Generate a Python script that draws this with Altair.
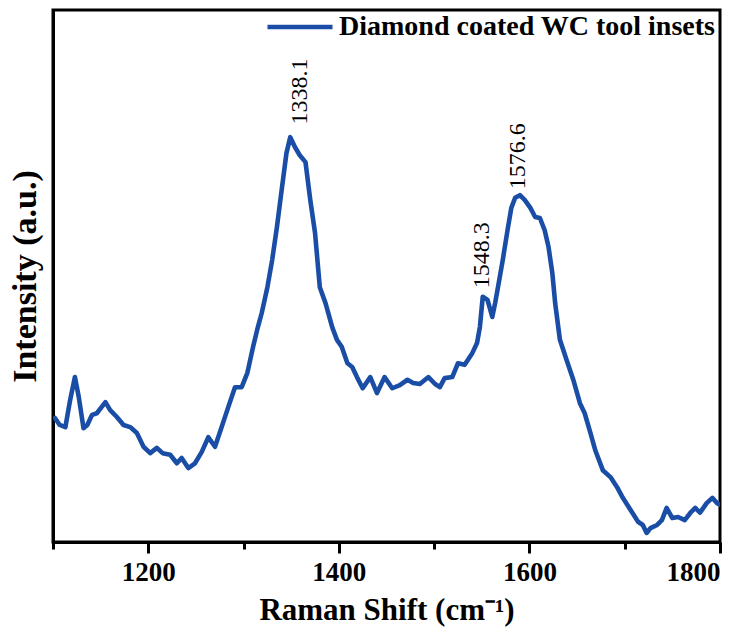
import altair as alt
import pandas as pd

# Raman spectrum (wavenumber in cm^-1, intensity in a.u.)
wavenumber = [1102, 1107, 1113, 1118, 1123, 1127, 1132, 1136, 1141, 1146,
              1155, 1160, 1167, 1174, 1181, 1188, 1195, 1202, 1209, 1215,
              1223, 1230, 1235, 1242, 1249, 1256, 1263, 1270, 1277, 1284,
              1291, 1298, 1304, 1310, 1315, 1319, 1325, 1330, 1335, 1340,
              1345, 1349, 1354, 1359, 1365, 1370, 1375, 1380, 1386, 1393,
              1398, 1403, 1409, 1414, 1419, 1425, 1433, 1440, 1448, 1456,
              1464, 1472, 1478, 1485, 1494, 1501, 1506, 1511, 1519, 1525,
              1532, 1540, 1545, 1548, 1551, 1556, 1561, 1564, 1567, 1572,
              1577, 1581, 1585, 1590, 1595, 1601, 1606, 1611, 1616, 1620,
              1624, 1627, 1632, 1639, 1646, 1653, 1658, 1664, 1669, 1677,
              1685, 1692, 1698, 1708, 1714, 1719, 1723, 1727, 1734, 1739,
              1744, 1750, 1756, 1763, 1769, 1774, 1779, 1786, 1792, 1797,
              1800]
intensity = [23.3, 22.0, 21.6, 26.7, 31.0, 27.3, 21.4, 22.0, 23.9, 24.2,
             26.3, 24.8, 23.5, 22.0, 21.6, 20.5, 17.9, 16.7, 17.7, 16.7,
             16.4, 14.8, 15.8, 13.9, 14.8, 16.9, 19.7, 17.9, 21.6, 25.4,
             29.1, 29.1, 31.8, 36.7, 40.4, 43.0, 47.9, 53.0, 59.2, 66.2,
             73.1, 76.1, 74.2, 72.7, 71.4, 64.3, 58.1, 47.9, 44.9, 40.4,
             38.0, 36.7, 33.6, 32.9, 31.0, 28.9, 31.0, 28.0, 31.0, 28.9,
             29.5, 30.5, 29.9, 29.7, 31.0, 29.7, 29.1, 30.8, 31.0, 33.6,
             33.3, 35.5, 37.4, 40.4, 46.1, 45.5, 42.3, 44.9, 47.9, 53.0,
             58.6, 62.8, 64.7, 65.2, 64.3, 62.8, 61.1, 60.9, 58.6, 55.5,
             50.6, 44.9, 38.0, 34.2, 30.5, 26.1, 24.2, 20.5, 17.3, 13.5,
             12.2, 10.3, 8.3, 5.5, 3.8, 3.2, 1.7, 2.6, 3.2, 4.1,
             6.4, 4.5, 4.7, 4.1, 5.5, 6.4, 5.5, 7.3, 8.3, 7.3,
             7.0]
series_name = "Diamond coated WC tool insets"

peak_labels = ["1338.1", "1548.3", "1576.6"]
peak_x = [1359, 1550, 1588]
peak_y = [78.5, 47.7, 66.3]

x_ticks = [1100, 1200, 1300, 1400, 1500, 1600, 1700, 1800]

df = pd.DataFrame({"x": wavenumber, "y": intensity, "series": series_name})
ann = pd.DataFrame({"x": peak_x, "y": peak_y, "label": peak_labels})

FONT = "Liberation Serif"
BLUE = "#1a4ea6"

x_scale = alt.Scale(domain=[1100, 1800], nice=False, zero=False)
y_scale = alt.Scale(domain=[0, 100], nice=False, zero=False)

line = alt.Chart(df).mark_line(
    strokeWidth=4.6, strokeJoin="round", strokeCap="round", clip=True
).encode(
    x=alt.X("x:Q", scale=x_scale,
            axis=alt.Axis(values=x_ticks, format="d",
                          labelExpr="datum.value % 200 === 0 ? datum.label : ''",
                          tickSize={"condition": {"test": "datum.value % 200 === 0", "value": 11}, "value": 7},
                          title="Raman Shift (cm⁻¹)", grid=False,
                          labelPadding=6, titlePadding=10)),
    y=alt.Y("y:Q", scale=y_scale,
            axis=alt.Axis(labels=False, ticks=False, grid=False,
                          title="Intensity (a.u.)", titlePadding=11,
                          titleFontSize=34)),
    color=alt.Color("series:N", scale=alt.Scale(range=[BLUE]),
                    legend=alt.Legend(title=None, orient="none", legendX=212, legendY=-18,
                                      symbolType="stroke", symbolSize=4225,
                                      symbolStrokeWidth=4.6, labelFont=FONT,
                                      labelFontWeight="bold", labelFontSize=28,
                                      labelColor="black", labelOffset=4,
                                      labelLimit=0, padding=0)),
)

text = alt.Chart(ann).mark_text(
    angle=270, align="left", baseline="middle", font=FONT, fontSize=24, color="black"
).encode(
    x=alt.X("x:Q", scale=x_scale),
    y=alt.Y("y:Q", scale=y_scale),
    text="label:N",
)

chart = alt.layer(line, text).properties(
    width=667, height=532,
    autosize=alt.AutoSizeParams(type="none"),
    padding={"left": 53, "top": 10, "right": 31, "bottom": 92},
    background="white",
).configure_view(
    stroke="black", strokeWidth=3
).configure_axis(
    domainColor="black", domainWidth=3, tickColor="black", tickWidth=3,
    labelFont=FONT, labelFontWeight="bold", labelFontSize=27, labelColor="black",
    titleFont=FONT, titleFontWeight="bold", titleFontSize=31, titleColor="black",
)

chart.save("out.html", embed_options={"renderer": "svg", "actions": False})
